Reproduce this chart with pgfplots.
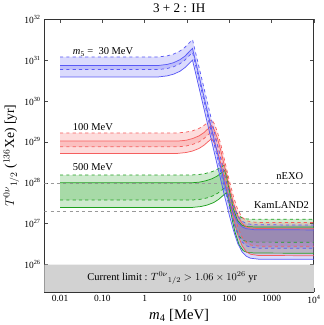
\documentclass[border=0pt]{standalone}
\usepackage{fontspec}
\setmainfont{Liberation Serif}
\usepackage{pgfplots}
\pgfplotsset{compat=1.18}
\usepgfplotslibrary{fillbetween}
\definecolor{bl}{RGB}{90,90,245}
\definecolor{rd}{RGB}{245,95,95}
\definecolor{gr}{RGB}{30,160,30}
\begin{document}
\begin{tikzpicture}
\begin{axis}[
  scale only axis, width=257pt, height=260pt,
  xmode=log, ymode=log,
  xmin=0.00425, xmax=10000, ymin=2.15e25, ymax=1e32,
  xtick={0.01,0.1,1,10,100,1000,10000},
  xticklabels={0.01,0.10,1,10,100,1000,10\textsuperscript{4}},
  ytick={1e26,1e27,1e28,1e29,1e30,1e31,1e32},
  yticklabels={10\textsuperscript{26},10\textsuperscript{27},10\textsuperscript{28},10\textsuperscript{29},10\textsuperscript{30},10\textsuperscript{31},10\textsuperscript{32}},
  tick label style={font=\fontsize{9}{10}\selectfont},
  minor tick length=0pt, major tick length=3.5pt,
  tick style={black!70, line width=0.6pt},
  axis line style={line width=0.9pt, black!80},
  title={3 + 2 : IH}, title style={font=\fontsize{12.5}{13}\selectfont, yshift=-3pt},
  xlabel={\textit{m}\textsubscript{4} [MeV]}, xlabel style={font=\fontsize{14}{15}\selectfont, yshift=2pt},
  ylabel={$T^{0\nu}{}_{1/2}$ ($^{136}$Xe) [yr]}, ylabel style={font=\fontsize{13}{14}\selectfont, yshift=-2pt},
]
% current limit band
\addplot[draw=none, fill=gray!35] coordinates {(0.00425,1e25) (10000,1e25) (10000,1e26) (0.00425,1e26)} \closedcycle;
\addplot[gray!80, dashed, line width=0.6pt] coordinates {(0.00425,1e28) (10000,1e28)};
\addplot[gray!80, dashed, line width=0.6pt] coordinates {(0.00425,2e27) (10000,2e27)};

% ---------------- green (m5 = 500 MeV)
\addplot[name path=gDU, gr, dashed, line width=0.7pt] coordinates {(0.01,1.55e28) (12.0,1.55e28) (19.1,1.60e28) (26.9,1.69e28) (38.0,1.86e28) (50.1,2.10e28) (63.1,2.41e28) (75.9,2.69e28) (85.1,1.83e28) (95.5,1.02e28) (107,5.65e27) (120,3.43e27) (151,1.82e27) (191,1.42e27) (240,1.32e27) (380,1.29e27) (10000,1.29e27)};
\addplot[name path=gSU, gr, line width=0.7pt] coordinates {(0.01,1.00e28) (12.3,1.00e28) (19.5,1.04e28) (27.5,1.12e28) (38.9,1.26e28) (51.3,1.46e28) (64.6,1.74e28) (77.6,2.00e28) (87.1,1.34e28) (97.7,7.45e27) (110,4.06e27) (123,2.42e27) (155,1.23e27) (195,9.31e26) (245,8.57e26) (389,8.36e26) (10000,8.32e26)};
\addplot[name path=gDL, gr, dashed, line width=0.7pt] coordinates {(0.01,3.80e27) (13.2,3.80e27) (20.9,3.97e27) (29.5,4.28e27) (41.7,4.85e27) (55.0,5.70e27) (69.2,6.85e27) (83.2,7.94e27) (93.3,5.37e27) (105,2.99e27) (117,1.64e27) (132,9.86e26) (166,5.13e26) (209,3.94e26) (263,3.65e26) (417,3.56e26) (10000,3.55e26)};
\addplot[name path=gSL, gr, line width=0.7pt] coordinates {(0.01,2.51e27) (13.5,2.51e27) (21.4,2.64e27) (30.2,2.87e27) (42.7,3.30e27) (56.2,3.96e27) (70.8,4.88e27) (85.1,5.75e27) (95.5,3.82e27) (107,2.09e27) (120,1.12e27) (135,6.47e26) (170,3.05e26) (214,2.19e26) (269,1.98e26) (427,1.92e26) (10000,1.91e26)};
\addplot[gr, fill opacity=0.22] fill between[of=gDU and gDL];
\addplot[gr, fill opacity=0.22] fill between[of=gSU and gSL];

% ---------------- red (m5 = 100 MeV)
\addplot[name path=rDU, rd, dashed, line width=0.7pt] coordinates {(0.01,1.66e29) (6.03,1.66e29) (9.55,1.74e29) (13.5,1.87e29) (19.1,2.13e29) (25.1,2.52e29) (31.6,3.05e29) (38.0,3.55e29) (44.7,2.72e29) (52.5,1.72e29) (63.1,8.61e28) (79.4,3.16e28) (100,1.14e28) (126,4.50e27) (158,2.21e27) (200,1.45e27) (251,1.20e27) (316,1.11e27) (501,1.08e27) (10000,1.07e27)};
\addplot[name path=rSU, rd, line width=0.7pt] coordinates {(0.01,1.05e29) (6.03,1.05e29) (9.55,1.10e29) (13.5,1.21e29) (19.1,1.40e29) (25.1,1.69e29) (31.6,2.11e29) (38.0,2.51e29) (44.7,1.93e29) (52.5,1.22e29) (63.1,6.10e28) (79.4,2.24e28) (100,8.09e27) (126,3.18e27) (158,1.56e27) (200,1.03e27) (251,8.47e26) (316,7.87e26) (501,7.62e26) (10000,7.59e26)};
\addplot[name path=rDL, rd, dashed, line width=0.7pt] coordinates {(0.01,7.59e28) (6.03,7.59e28) (9.55,7.98e28) (13.5,8.69e28) (19.1,1.00e29) (25.1,1.21e29) (31.6,1.50e29) (38.0,1.78e29) (44.7,1.36e29) (52.5,8.61e28) (63.1,4.32e28) (79.4,1.56e28) (100,5.47e27) (126,2.00e27) (158,8.51e26) (200,4.70e26) (251,3.44e26) (316,3.03e26) (501,2.84e26) (10000,2.82e26)};
\addplot[name path=rSL, rd, line width=0.7pt] coordinates {(0.01,5.25e28) (6.03,5.25e28) (9.55,5.52e28) (13.5,6.00e28) (19.1,6.90e28) (25.1,8.28e28) (31.6,1.02e29) (38.0,1.20e29) (44.7,9.23e28) (52.5,5.82e28) (63.1,2.92e28) (79.4,1.05e28) (100,3.67e27) (126,1.33e27) (158,5.51e26) (200,2.93e26) (251,2.08e26) (316,1.80e26) (501,1.67e26) (10000,1.66e26)};
\addplot[rd, fill opacity=0.22] fill between[of=rDU and rDL];
\addplot[rd, fill opacity=0.22] fill between[of=rSU and rSL];

% ---------------- blue (m5 = 30 MeV)
\addplot[name path=bDU, bl, dashed, line width=0.7pt] coordinates {(0.01,1.20e31) (2.14,1.20e31) (3.39,1.27e31) (4.79,1.40e31) (6.76,1.66e31) (8.91,2.05e31) (11.2,2.61e31) (13.5,3.16e31) (79.4,1.39e28) (100,5.64e27) (126,2.64e27) (158,1.55e27) (200,1.16e27) (251,1.01e27) (398,9.44e26) (10000,9.33e26)};
\addplot[name path=bSU, bl, line width=0.7pt] coordinates {(0.01,7.41e30) (2.14,7.41e30) (3.39,7.85e30) (4.79,8.63e30) (6.76,1.02e31) (8.91,1.25e31) (11.2,1.59e31) (13.5,1.93e31) (79.4,8.59e27) (100,3.57e27) (126,1.75e27) (158,1.09e27) (200,8.45e26) (251,7.59e26) (398,7.14e26) (10000,7.08e26)};
\addplot[name path=bDL, bl, dashed, line width=0.7pt] coordinates {(0.01,5.89e30) (2.14,5.89e30) (3.39,6.24e30) (4.79,6.87e30) (6.76,8.11e30) (8.91,1.00e31) (11.2,1.28e31) (13.5,1.55e31) (79.4,6.59e27) (100,2.55e27) (126,1.09e27) (158,5.55e26) (200,3.61e26) (251,2.91e26) (316,2.65e26) (501,2.53e26) (10000,2.51e26)};
\addplot[name path=bSL, bl, line width=0.7pt] coordinates {(0.01,3.89e30) (2.14,3.89e30) (3.39,4.12e30) (4.79,4.53e30) (6.76,5.31e30) (8.91,6.55e30) (11.2,8.28e30) (13.5,1.00e31) (79.4,4.23e27) (100,1.62e27) (126,6.75e26) (158,3.31e26) (200,2.06e26) (251,1.61e26) (316,1.44e26) (501,1.36e26) (10000,1.35e26)};
\addplot[bl, fill opacity=0.22] fill between[of=bDU and bDL];
\addplot[bl, fill opacity=0.22] fill between[of=bSU and bSL];

% labels
\node[anchor=west, font=\fontsize{10}{11}\selectfont] at (axis cs:0.0165,1.6e31) {\textit{m}\textsubscript{5} = \ 30 MeV};
\node[anchor=west, font=\fontsize{10}{11}\selectfont] at (axis cs:0.0165,2.3e29) {100 MeV};
\node[anchor=west, font=\fontsize{10}{11}\selectfont] at (axis cs:0.0165,2.4e28) {500 MeV};
\node[anchor=east, font=\fontsize{10}{11}\selectfont] at (axis cs:6800,1.45e28) {nEXO};
\node[anchor=east, font=\fontsize{10}{11}\selectfont] at (axis cs:9300,2.9e27) {KamLAND2};
\node[font=\fontsize{10}{11}\selectfont] at (axis cs:4.5,4.7e25) {Current limit : $T^{0\nu}{}_{1/2} > 1.06\times10^{26}$ yr};
\end{axis}
\end{tikzpicture}
\end{document}
